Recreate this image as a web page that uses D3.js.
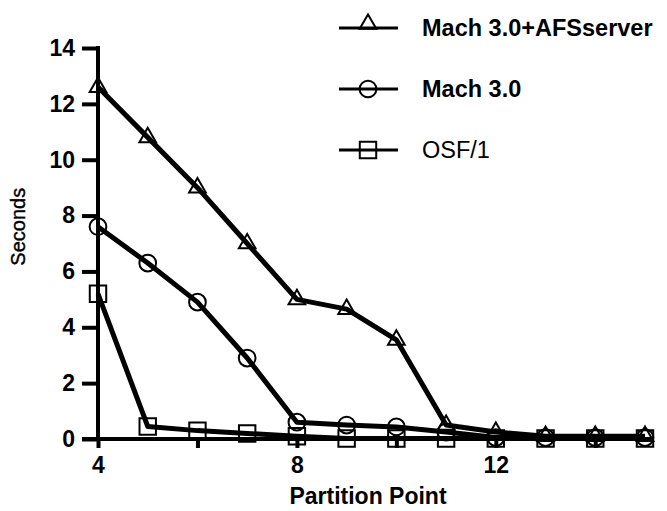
<!DOCTYPE html>
<html>
<head>
<meta charset="utf-8">
<script src="https://cdn.jsdelivr.net/npm/d3@7"></script>
<style>
  body { margin: 0; background: #fff; }
  text { font-family: "Liberation Sans", Arial, Helvetica, sans-serif; fill: #000; }
</style>
</head>
<body>
<script>
'use strict';

let partition = [4, 5, 6, 7, 8, 9, 10, 11, 12, 13, 14, 15];
let afsServer = [12.6, 10.8, 9.0, 7.0, 5.0, 4.65, 3.55, 0.5, 0.25, 0.1, 0.1, 0.1];
let mach30 = [7.6, 6.3, 4.9, 2.9, 0.6, 0.5, 0.43, 0.25, 0.05, 0.05, 0.05, 0.05];
let osf1 = [5.2, 0.45, 0.3, 0.2, 0.1, 0.02, 0.02, 0.02, 0.02, 0.02, 0.02, 0.02];
let seriesNames = ['Mach 3.0+AFSserver', 'Mach 3.0', 'OSF/1'];
let xTicks = [4, 6, 8, 10, 12, 14];
let xLabels = [4, 8, 12];
let yTicks = [0, 2, 4, 6, 8, 10, 12, 14];

let w = 667, h = 511;

let svg = d3.select('body')
    .append('svg')
    .attr('width', w)
    .attr('height', h);

let x = d3.scaleLinear().domain([4, 15]).range([98, 645]);
let y = d3.scaleLinear().domain([0, 14]).range([439, 48]);

// axes
let yAxis = svg.append('g')
    .attr('transform', 'translate(' + x(4) + ',0)')
    .call(d3.axisLeft(y).tickValues(yTicks).tickSize(16).tickSizeOuter(0).tickPadding(7));
yAxis.select('.domain').remove();
yAxis.selectAll('line').attr('stroke', '#000').attr('stroke-width', 4);
yAxis.selectAll('text')
    .attr('font-size', '23px')
    .attr('font-weight', 'bold')
    .attr('font-family', '"Liberation Sans", Arial, sans-serif');

let xAxis = svg.append('g')
    .attr('transform', 'translate(0,' + y(0) + ')')
    .call(d3.axisBottom(x).tickValues(xTicks).tickSize(9).tickSizeOuter(0).tickPadding(9)
        .tickFormat(d => xLabels.includes(d) ? d : ''));
xAxis.select('.domain').remove();
xAxis.selectAll('line').attr('stroke', '#000').attr('stroke-width', 4);
xAxis.selectAll('text')
    .attr('font-size', '23px')
    .attr('font-weight', 'bold')
    .attr('font-family', '"Liberation Sans", Arial, sans-serif');

svg.append('line')
    .attr('x1', x(4)).attr('x2', x(4))
    .attr('y1', y(14) - 2).attr('y2', y(0) + 2)
    .attr('stroke', '#000').attr('stroke-width', 4);
svg.append('line')
    .attr('x1', x(4) - 16).attr('x2', x(15) + 8)
    .attr('y1', y(0)).attr('y2', y(0))
    .attr('stroke', '#000').attr('stroke-width', 4);

// axis titles
svg.append('text')
    .attr('transform', 'translate(25,' + y(7.6) + ') rotate(-90)')
    .attr('text-anchor', 'middle')
    .attr('font-size', '20px')
    .attr('stroke', '#000')
    .attr('stroke-width', 0.4)
    .text('Seconds');
svg.append('text')
    .attr('x', 368)
    .attr('y', 504)
    .attr('text-anchor', 'middle')
    .attr('font-size', '23px')
    .attr('font-weight', 'bold')
    .text('Partition Point');

// series
let series = [
    { name: seriesNames[0], values: afsServer, symbol: d3.symbolTriangle, size: 120 },
    { name: seriesNames[1], values: mach30, symbol: d3.symbolCircle, size: 220 },
    { name: seriesNames[2], values: osf1, symbol: d3.symbolSquare, size: 270 }
];

let line = d3.line()
    .x(d => x(d[0]))
    .y(d => y(d[1]));

series.forEach(s => {
    let pts = partition.map((p, i) => [p, s.values[i]]);
    svg.append('path')
        .datum(pts)
        .attr('d', line)
        .attr('fill', 'none')
        .attr('stroke', '#000')
        .attr('stroke-width', 5)
        .attr('stroke-linejoin', 'round');
    svg.selectAll(null)
        .data(pts)
        .enter()
        .append('path')
        .attr('transform', d => 'translate(' + x(d[0]) + ',' + y(d[1]) + ')')
        .attr('d', d3.symbol().type(s.symbol).size(s.size))
        .attr('fill', 'none')
        .attr('stroke', '#000')
        .attr('stroke-width', 2);
});

// legend
let legendY = [28, 89, 150];
series.forEach((s, i) => {
    let g = svg.append('g').attr('transform', 'translate(0,' + legendY[i] + ')');
    g.append('line')
        .attr('x1', 339).attr('x2', 398)
        .attr('stroke', '#000').attr('stroke-width', 3);
    g.append('path')
        .attr('transform', 'translate(368,' + (i === 0 ? -4 : 0) + ')')
        .attr('d', d3.symbol().type(s.symbol).size(s.size))
        .attr('fill', 'none')
        .attr('stroke', '#000')
        .attr('stroke-width', 2);
    g.append('text')
        .attr('x', 422)
        .attr('y', 8)
        .attr('font-size', '23.5px')
        .attr('font-weight', i === 2 ? 'normal' : 'bold')
        .text(s.name);
});
</script>
</body>
</html>
